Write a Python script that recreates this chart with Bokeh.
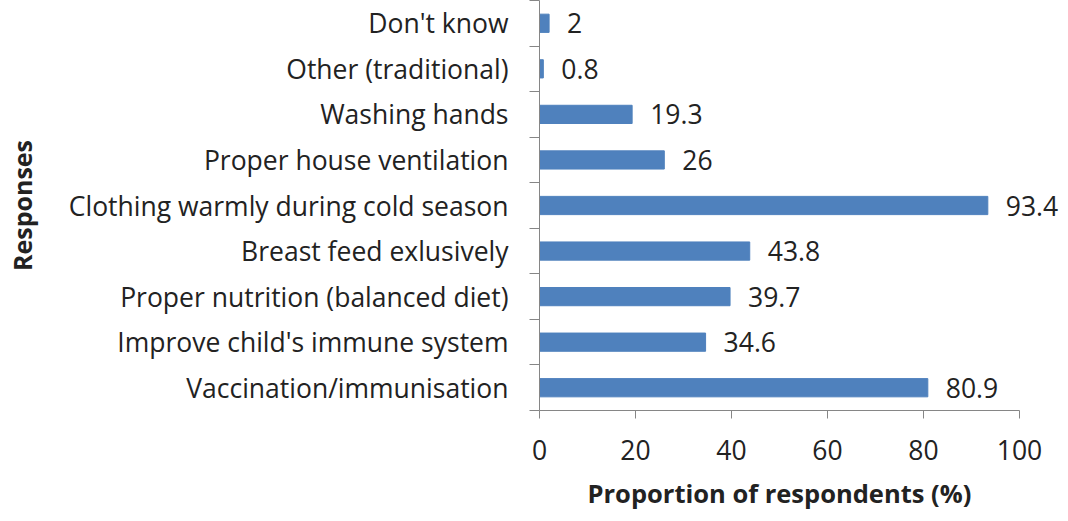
from bokeh.plotting import figure
from bokeh.models import Range1d, FixedTicker, ColumnDataSource, LabelSet, Title
from bokeh.embed import file_html
from bokeh.resources import INLINE
from bokeh.core.properties import value

categories = [
    "Vaccination/immunisation",
    "Improve child's immune system",
    "Proper nutrition (balanced diet)",
    "Breast feed exlusively",
    "Clothing warmly during cold season",
    "Proper house ventilation",
    "Washing hands",
    "Other (traditional)",
    "Don't know",
]
values = [80.9, 34.6, 39.7, 43.8, 93.4, 26, 19.3, 0.8, 2]
x_ticks = [0, 20, 40, 60, 80, 100]
x_title = "Proportion of respondents (%)"
y_title = "Responses"

FONT = "Open Sans"
TXT = "#222222"
AX = "#868686"
FS = "26.5px"

pos = [i + 0.5 for i in range(len(categories))]
labels = [f"{v:g}" for v in values]
src = ColumnDataSource(dict(y=pos, v=values, lab=labels))

p = figure(frame_width=528, frame_height=410, output_backend="svg",
           toolbar_location=None,
           x_range=Range1d(0, 110), y_range=Range1d(0, 9),
           min_border_left=539, min_border_right=0, min_border_top=0,
           min_border_bottom=0)
p.outline_line_color = None
p.grid.visible = False
p.background_fill_color = "white"

p.hbar(y="y", right="v", left=0, height=0.4, source=src,
       fill_color="#4F81BD", line_color="#4F81BD")
p.add_layout(LabelSet(x="v", y="y", text="lab", source=src, x_offset=18,
                      text_align="left", text_baseline="middle",
                      text_font=value(FONT), text_font_size=value(FS),
                      text_color=value(TXT)))

# x axis
xa = p.xaxis[0]
xa.ticker = FixedTicker(ticks=x_ticks)
xa.bounds = (x_ticks[0], x_ticks[-1])
xa.axis_line_color = AX
xa.major_tick_line_color = AX
xa.major_tick_out = 8
xa.major_tick_in = 0
xa.minor_tick_line_color = None
xa.major_label_standoff = 21
xa.major_label_text_font = FONT
xa.major_label_text_font_size = FS
xa.major_label_text_color = TXT

# x axis title, centred under the 0-100 span of the axis
p.add_layout(Title(text=x_title, align="left", offset=48, standoff=23,
                   text_font=FONT, text_font_size="25.5px",
                   text_font_style="bold", text_color=TXT), "below")

# y axis
ya = p.yaxis[0]
ya.ticker = FixedTicker(ticks=pos, minor_ticks=list(range(len(categories) + 1)))
ya.major_label_overrides = {pv: c for pv, c in zip(pos, categories)}
ya.axis_line_color = AX
ya.major_tick_line_color = None
ya.major_tick_out = 0
ya.major_tick_in = 0
ya.minor_tick_line_color = AX
ya.minor_tick_out = 10
ya.minor_tick_in = 0
ya.major_label_standoff = 21
ya.major_label_text_font = FONT
ya.major_label_text_font_size = FS
ya.major_label_text_color = TXT
ya.axis_label = y_title
ya.axis_label_text_font = FONT
ya.axis_label_text_font_size = "25px"
ya.axis_label_text_font_style = "bold"
ya.axis_label_text_color = TXT
ya.axis_label_standoff = 27

open("out.html", "w").write(file_html(p, INLINE))
